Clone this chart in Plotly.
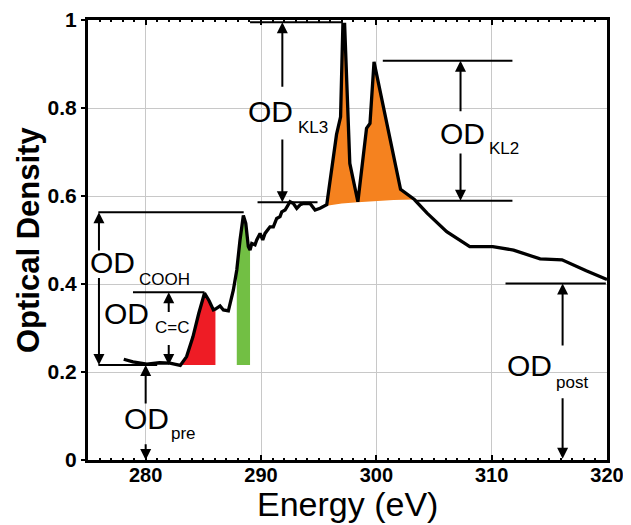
import numpy as np
import plotly.graph_objects as go

# ---- Spectrum data ----
energy = [278.1, 278.9, 280.1, 281.2, 282.1, 283.0, 283.55, 284.1, 284.6, 285.1,
          285.5, 285.87, 286.05, 286.45, 286.74, 287.17, 287.6, 287.9, 288.18, 288.47,
          288.68, 288.9, 289.05, 289.2, 289.48, 289.63, 289.92, 290.15, 290.35, 290.78,
          291.07, 291.36, 291.65, 291.8, 292.09, 292.52, 292.81, 293.1, 293.39, 293.67,
          294.25, 294.69, 295.12, 295.7, 296.55, 296.9, 297.1, 297.25, 297.7, 298.4,
          299.15, 299.45, 299.8, 302.1, 303.3, 304.4, 306.1, 308.1, 310.1, 311.9,
          314.2, 316.1, 318.2, 320.0]
od = [0.229, 0.223, 0.218, 0.221, 0.220, 0.215, 0.235, 0.280, 0.333, 0.379,
      0.362, 0.341, 0.343, 0.350, 0.341, 0.339, 0.386, 0.432, 0.500, 0.556,
      0.538, 0.485, 0.477, 0.492, 0.489, 0.500, 0.515, 0.500, 0.515, 0.530,
      0.530, 0.549, 0.553, 0.564, 0.568, 0.587, 0.583, 0.572, 0.580, 0.583,
      0.583, 0.568, 0.572, 0.580, 0.740, 0.780, 0.990, 0.990, 0.674, 0.587,
      0.754, 0.765, 0.905, 0.615, 0.592, 0.561, 0.519, 0.485, 0.485, 0.477,
      0.457, 0.455, 0.430, 0.410]

# shaded regions (energy ranges) and levels
red_range = [283.0, 286.05]
green_range = [287.9, 289.05]
orange_range = [295.7, 303.3]
orange_base_x = [295.7, 297.0, 298.4, 300.0, 301.5, 303.3]
orange_base_y = [0.578, 0.583, 0.586, 0.589, 0.591, 0.592]
od_pre = 0.216
od_cc_top = 0.381
od_cooh_top = 0.563
od_kl3_top = 0.995
od_kl3_base = 0.586
od_kl2_top = 0.9075
od_kl2_base = 0.589
od_post = 0.401

x_ticks = [280, 290, 300, 310, 320]
y_ticks = [0, 0.2, 0.4, 0.6, 0.8, 1]

E = np.array(energy)
O = np.array(od)

FONT = "Liberation Sans, Arial, sans-serif"
RED, GREEN, ORANGE = "#ee1c25", "#72bf44", "#f5821f"

fig = go.Figure()

def region(lo, hi):
    m = (E >= lo) & (E <= hi)
    return E[m], O[m]

# red
rx, ry = region(*red_range)
fig.add_trace(go.Scatter(x=list(rx) + [rx[-1], rx[0]], y=list(ry) + [od_pre, od_pre],
                         fill="toself", fillcolor=RED, mode="lines", line=dict(width=0),
                         hoverinfo="skip", showlegend=False))
# green
gx, gy = region(*green_range)
fig.add_trace(go.Scatter(x=list(gx) + [gx[-1], gx[0]], y=list(gy) + [od_pre, od_pre],
                         fill="toself", fillcolor=GREEN, mode="lines", line=dict(width=0),
                         hoverinfo="skip", showlegend=False))
# orange
ox, oy = region(*orange_range)
fig.add_trace(go.Scatter(x=list(ox) + orange_base_x[::-1], y=list(oy) + orange_base_y[::-1],
                         fill="toself", fillcolor=ORANGE, mode="lines", line=dict(width=0),
                         hoverinfo="skip", showlegend=False))
# spectrum
fig.add_trace(go.Scatter(x=energy, y=od, mode="lines", line=dict(color="black", width=3.3),
                         showlegend=False))

# horizontal reference lines
hlines = [
    (275.9, 281.0, od_pre),
    (275.9, 288.5, od_cooh_top),
    (278.9, 285.1, od_cc_top),
    (289.05, 297.1, od_kl3_top),
    (289.7, 294.9, od_kl3_base),
    (300.56, 311.8, od_kl2_top),
    (303.4, 311.8, od_kl2_base),
    (311.2, 319.9, od_post),
]
for x0, x1, yv in hlines:
    fig.add_shape(type="line", x0=x0, x1=x1, y0=yv, y1=yv, xref="x", yref="y",
                  line=dict(color="black", width=2))

# arrows: (x, head_y, tail_y)
arrows = [
    (280.0, od_pre, 0.125), (280.0, 0.0, 0.039),
    (275.95, od_cooh_top, 0.473), (275.95, od_pre, 0.417),
    (282.0, od_cc_top, 0.333), (282.0, od_pre, 0.265),
    (291.85, od_kl3_top, 0.845), (291.85, od_kl3_base, 0.732),
    (307.3, od_kl2_top, 0.789), (307.3, od_kl2_base, 0.700),
    (316.15, od_post, 0.257), (316.15, 0.003, 0.144),
]
annotations = []
for xv, hy, ty in arrows:
    annotations.append(dict(x=xv, y=hy, ax=xv, ay=ty, xref="x", yref="y", axref="x", ayref="y",
                            text="", showarrow=True, arrowhead=2, arrowsize=1.1, arrowwidth=2,
                            arrowcolor="black", standoff=0, startstandoff=0))

# labels: (text, x, y, size)
labels = [
    ("OD", 280.07, 0.094, 30), ("pre", 283.3, 0.061, 17),
    ("OD", 277.12, 0.448, 30), ("COOH", 281.63, 0.411, 17),
    ("OD", 278.34, 0.334, 30), ("C=C", 282.24, 0.301, 17),
    ("OD", 290.85, 0.793, 30), ("KL3", 294.47, 0.756, 17),
    ("OD", 307.48, 0.743, 30), ("KL2", 311.08, 0.708, 17),
    ("OD", 313.25, 0.214, 30), ("post", 317.0, 0.176, 17),
]
for t, xv, yv, s in labels:
    annotations.append(dict(x=xv, y=yv, xref="x", yref="y", text=t, showarrow=False,
                            xanchor="center", yanchor="middle",
                            font=dict(family=FONT, size=s, color="black")))

# axis titles
annotations.append(dict(x=0.5, y=-0.099, xref="paper", yref="paper", text="Energy (eV)",
                        showarrow=False, xanchor="center", yanchor="middle",
                        font=dict(family=FONT, size=34, color="black")))
annotations.append(dict(x=-0.1156, y=0.5, xref="paper", yref="paper", text="Optical Density",
                        showarrow=False, xanchor="center", yanchor="middle", textangle=-90,
                        font=dict(family=FONT, size=31, color="black", weight="bold")))

# the page body adds an 8px offset, so the figure is 8px smaller and margins shifted
fig.update_layout(
    width=623, height=517,
    margin=dict(l=80, r=24, t=12, b=65),
    paper_bgcolor="white", plot_bgcolor="white",
    annotations=annotations,
    xaxis=dict(range=[275, 320], tickvals=x_ticks, showgrid=True, gridcolor="#c8c8c8", gridwidth=1,
               showline=True, linecolor="black", linewidth=3, mirror="allticks",
               ticks="inside", ticklen=5, tickwidth=2, tickcolor="black",
               minor=dict(dtick=1, ticks="inside", ticklen=2, tickwidth=2, tickcolor="black", showgrid=False),
               tickfont=dict(family=FONT, size=20, color="black", weight="bold"),
               ticklabelstandoff=-5,
               automargin=False, zeroline=False),
    yaxis=dict(range=[0, 1], tickvals=y_ticks, showgrid=True, gridcolor="#c8c8c8", gridwidth=1,
               showline=True, linecolor="black", linewidth=3, mirror=True,
               ticks="outside", ticklen=4, tickwidth=2, tickcolor="black",
               tickfont=dict(family=FONT, size=21, color="black", weight="bold"),
               automargin=False, zeroline=False),
)

fig.write_html("out.html")
